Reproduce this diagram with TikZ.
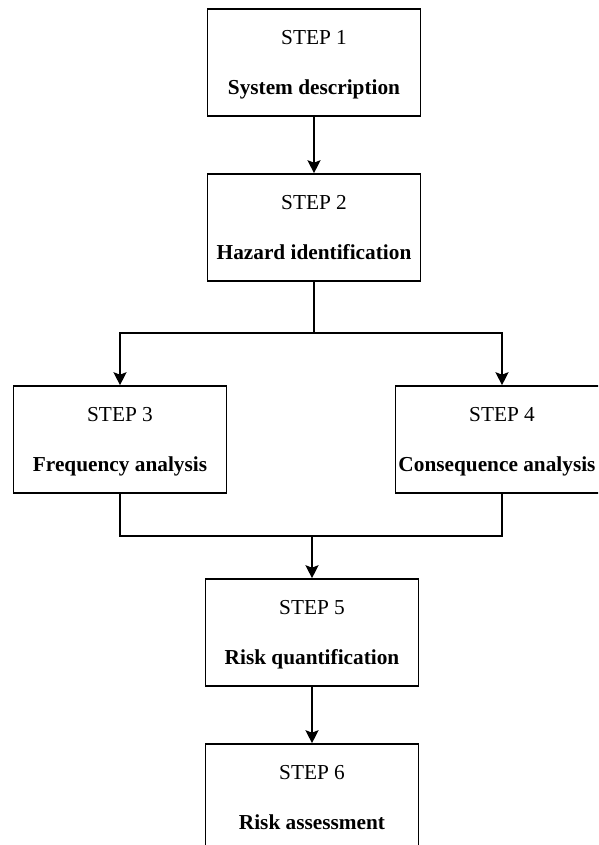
\documentclass[tikz,border=0pt]{standalone}
\usepackage{fontspec}
\setmainfont{Liberation Serif}
\usetikzlibrary{arrows.meta}
\begin{document}
\begin{tikzpicture}[x=1pt,y=-1pt,
  box/.style={draw, line width=1.6pt, minimum width=213pt, minimum height=107pt, inner sep=0pt},
  steplbl/.style={anchor=base, font=\fontsize{21.3}{24}\selectfont, inner sep=0pt},
  titlelbl/.style={anchor=base, font=\fontsize{21.3}{24}\selectfont\bfseries, inner sep=0pt},
  conn/.style={line width=1.8pt},
  arr/.style={conn, -{Stealth[length=13pt,width=13pt,inset=2.5pt]}}]
\useasboundingbox (0,0) rectangle (598,845);
\clip (0,0) rectangle (598,845);
\fill[white] (0,0) rectangle (598,845);
% boxes
\node[box] (b1) at (314,62.5) {};
\node[box] (b2) at (314,227.5) {};
\node[box] (b3) at (120,439.5) {};
\node[box] (b4) at (502,439.5) {};
\node[box] (b5) at (312,632.5) {};
\node[box] (b6) at (312,797.5) {};
% labels
\node[steplbl] (s1) at ([yshift=-36pt]b1.north) {STEP 1};
\node[titlelbl] (t1) at ([yshift=-86pt]b1.north) {System description};
\node[steplbl] (s2) at ([yshift=-36pt]b2.north) {STEP 2};
\node[titlelbl] (t2) at ([yshift=-86pt]b2.north) {Hazard identification};
\node[steplbl] (s3) at ([yshift=-36pt]b3.north) {STEP 3};
\node[titlelbl] (t3) at ([yshift=-86pt]b3.north) {Frequency analysis};
\node[steplbl] (s4) at ([yshift=-36pt]b4.north) {STEP 4};
\node[titlelbl] (t4) at ([yshift=-86pt,xshift=-5pt]b4.north) {Consequence analysis};
\node[steplbl] (s5) at ([yshift=-36pt]b5.north) {STEP 5};
\node[titlelbl] (t5) at ([yshift=-86pt]b5.north) {Risk quantification};
\node[steplbl] (s6) at ([yshift=-36pt]b6.north) {STEP 6};
\node[titlelbl] (t6) at ([yshift=-86pt]b6.north) {Risk assessment};
% connectors
\coordinate (split) at (314,333);
\coordinate (merge) at (312,536);
\draw[arr] (b1.south) -- (b2.north);
\draw[conn] (b2.south) -- (split);
\draw[arr] (split) -| (b3.north);
\draw[arr] (split) -| (b4.north);
\draw[conn] (b3.south) |- (merge);
\draw[conn] (b4.south) |- (merge);
\draw[arr] (merge) -- (b5.north);
\draw[arr] (b5.south) -- (b6.north);
\end{tikzpicture}
\end{document}
